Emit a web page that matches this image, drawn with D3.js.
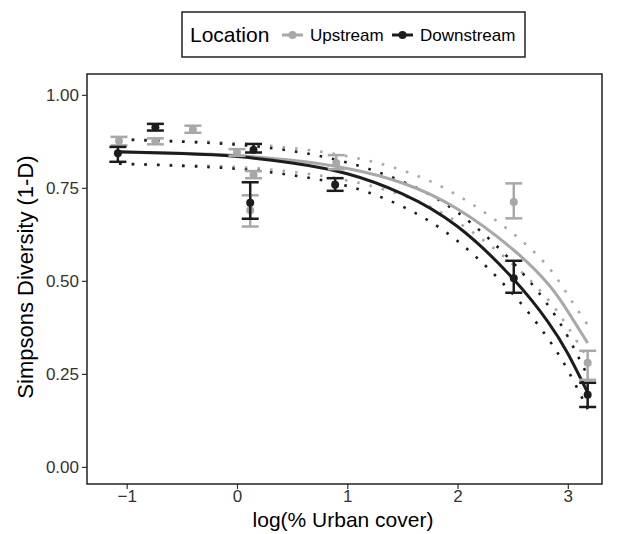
<!DOCTYPE html>
<html>
<head>
<meta charset="utf-8">
<script src="https://cdn.jsdelivr.net/npm/d3@7"></script>
<style>
  body { margin: 0; background: #fff; }
  text { font-family: "Liberation Sans", Arial, sans-serif; }
</style>
</head>
<body>
<div id="chart-area"></div>
<script>
// data
const locations = ["Upstream", "Downstream"];
const xTicks = [-1, 0, 1, 2, 3];
const yTicks = [0, 0.25, 0.5, 0.75, 1];

// mean diversity with error bar ends, per site
const upX    = [-1.07, -0.74, -0.40, 0.00, 0.15, 0.12, 0.90, 2.51, 3.18];
const upMean = [0.876, 0.875, 0.907, 0.845, 0.785, 0.690, 0.817, 0.712, 0.280];
const upLo   = [0.864, 0.867, 0.898, 0.836, 0.776, 0.646, 0.800, 0.668, 0.234];
const upHi   = [0.887, 0.883, 0.917, 0.854, 0.795, 0.730, 0.838, 0.762, 0.312];

const downX    = [-1.08, -0.74, 0.15, 0.12, 0.89, 2.51, 3.18];
const downMean = [0.843, 0.913, 0.852, 0.710, 0.758, 0.507, 0.194];
const downLo   = [0.820, 0.904, 0.845, 0.667, 0.742, 0.468, 0.161];
const downHi   = [0.860, 0.922, 0.868, 0.765, 0.776, 0.554, 0.226];

// fitted curves and their confidence limits
const fitX      = [-1.07, -0.5, 0, 0.5, 1.0, 1.5, 2.0, 2.5, 2.82, 3.0, 3.18];
const upFit     = [0.846, 0.843, 0.837, 0.824, 0.802, 0.763, 0.693, 0.585, 0.492, 0.418, 0.333];
const upFitHi   = [0.882, 0.876, 0.870, 0.857, 0.835, 0.797, 0.730, 0.628, 0.538, 0.462, 0.382];
const upFitLo   = [0.815, 0.811, 0.806, 0.793, 0.770, 0.730, 0.658, 0.545, 0.450, 0.376, 0.292];
const downFit   = [0.847, 0.842, 0.834, 0.817, 0.788, 0.734, 0.646, 0.507, 0.390, 0.305, 0.200];
const downFitHi = [0.880, 0.874, 0.866, 0.849, 0.818, 0.767, 0.684, 0.550, 0.435, 0.350, 0.245];
const downFitLo = [0.815, 0.809, 0.801, 0.784, 0.755, 0.700, 0.607, 0.465, 0.345, 0.260, 0.155];

const colors = { Upstream: "#a8a8a8", Downstream: "#1c1c1c" };

const svg = d3.select("#chart-area").append("svg")
  .attr("width", 619)
  .attr("height", 534);

const x = d3.scaleLinear().domain([-1.36, 3.31]).range([87, 602]);
const y = d3.scaleLinear().domain([-0.046, 1.056]).range([484, 74]);

// axes
svg.append("g")
  .attr("transform", "translate(0,484)")
  .call(d3.axisBottom(x).tickValues(xTicks).tickSize(5).tickPadding(1).tickFormat(d3.format("d")))
  .call(g => g.select(".domain").remove())
  .call(g => g.selectAll("line").attr("stroke", "#333").attr("stroke-width", 1.2))
  .call(g => g.selectAll("text").attr("font-size", 17).attr("fill", "#333"));

svg.append("g")
  .attr("transform", "translate(87,0)")
  .call(d3.axisLeft(y).tickValues(yTicks).tickSize(5).tickPadding(3).tickFormat(d3.format(".2f")))
  .call(g => g.select(".domain").remove())
  .call(g => g.selectAll("line").attr("stroke", "#333").attr("stroke-width", 1.2))
  .call(g => g.selectAll("text").attr("font-size", 17).attr("fill", "#333"));

// axis titles
svg.append("text")
  .attr("x", 343).attr("y", 527)
  .attr("text-anchor", "middle")
  .attr("font-size", 21)
  .text("log(% Urban cover)");

svg.append("text")
  .attr("transform", "translate(33,277) rotate(-90)")
  .attr("text-anchor", "middle")
  .attr("font-size", 22)
  .text("Simpsons Diversity (1-D)");

const plot = svg.append("g");

const line = d3.line()
  .x((d, i) => x(fitX[i]))
  .y(d => y(d))
  .curve(d3.curveNatural);

// dotted confidence limits
[[upFitHi, "Upstream"], [upFitLo, "Upstream"], [downFitHi, "Downstream"], [downFitLo, "Downstream"]]
  .forEach(function (s) {
    plot.append("path")
      .attr("d", line(s[0]))
      .attr("fill", "none")
      .attr("stroke", colors[s[1]])
      .attr("stroke-width", 2.6)
      .attr("stroke-dasharray", "2.6 10");
  });

// fitted lines
[[upFit, "Upstream"], [downFit, "Downstream"]].forEach(function (s) {
  plot.append("path")
    .attr("d", line(s[0]))
    .attr("fill", "none")
    .attr("stroke", colors[s[1]])
    .attr("stroke-width", 3);
});

// error bars + points
function drawSeries(xs, mean, lo, hi, loc) {
  const c = colors[loc];
  const grp = plot.append("g");
  xs.forEach(function (xv, i) {
    grp.append("line")
      .attr("x1", x(xv)).attr("x2", x(xv))
      .attr("y1", y(lo[i])).attr("y2", y(hi[i]))
      .attr("stroke", c).attr("stroke-width", 2.5);
    [lo[i], hi[i]].forEach(function (v) {
      grp.append("line")
        .attr("x1", x(xv) - 8.5).attr("x2", x(xv) + 8.5)
        .attr("y1", y(v)).attr("y2", y(v))
        .attr("stroke", c).attr("stroke-width", 2.5);
    });
    grp.append("circle")
      .attr("cx", x(xv)).attr("cy", y(mean[i]))
      .attr("r", 4)
      .attr("fill", c);
  });
}
drawSeries(upX, upMean, upLo, upHi, "Upstream");
drawSeries(downX, downMean, downLo, downHi, "Downstream");

// panel border
svg.append("rect")
  .attr("x", 87).attr("y", 74)
  .attr("width", 515).attr("height", 410)
  .attr("fill", "none")
  .attr("stroke", "#222")
  .attr("stroke-width", 1.5);

// legend
const legend = svg.append("g");
legend.append("rect")
  .attr("x", 182).attr("y", 12)
  .attr("width", 343).attr("height", 45)
  .attr("fill", "#fff")
  .attr("stroke", "#222")
  .attr("stroke-width", 1.5);

legend.append("text")
  .attr("x", 190).attr("y", 42)
  .attr("font-size", 21)
  .text("Location");

const keyX = { Upstream: 282, Downstream: 392 };
locations.forEach(function (loc) {
  const kx = keyX[loc];
  legend.append("line")
    .attr("x1", kx).attr("x2", kx + 21)
    .attr("y1", 35).attr("y2", 35)
    .attr("stroke", colors[loc]).attr("stroke-width", 3);
  legend.append("circle")
    .attr("cx", kx + 10.5).attr("cy", 35)
    .attr("r", 4)
    .attr("fill", colors[loc]);
  legend.append("text")
    .attr("x", kx + 28).attr("y", 41)
    .attr("font-size", 17)
    .text(loc);
});
</script>
</body>
</html>
